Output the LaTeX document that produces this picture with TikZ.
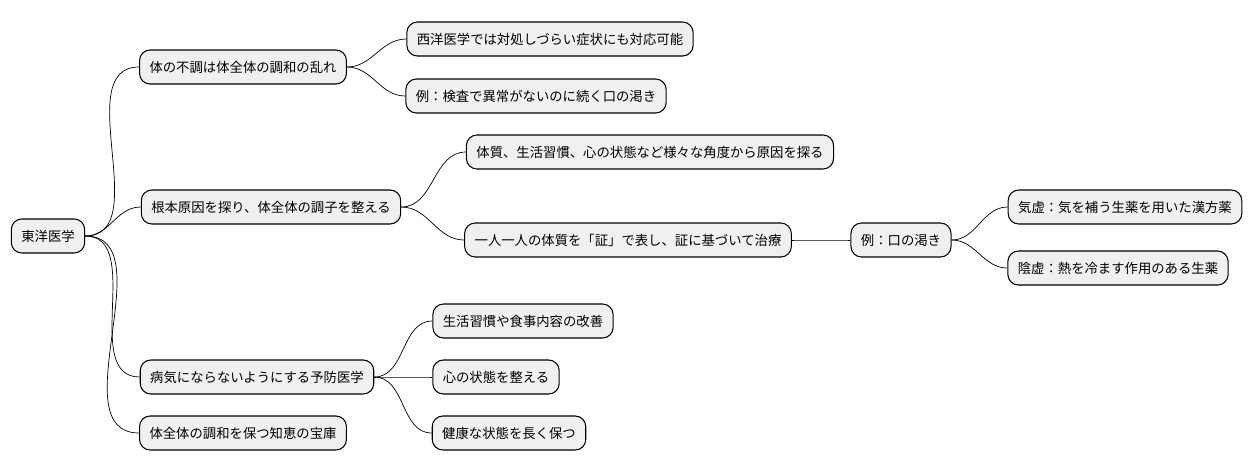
\documentclass[tikz,border=0pt]{standalone}
\usepackage{fontspec}
\setmainfont{Noto Sans CJK JP}
\begin{document}
\begin{tikzpicture}[x=0.02cm,y=-0.02cm,
    topic/.style={draw=black, fill=black!6, rounded corners=6pt, line width=0.6pt,
        minimum height=0.68cm, inner xsep=0.2cm, font=\fontsize{7.6pt}{9pt}\selectfont},
    link/.style={line width=0.5pt, out=0, in=180}]
    \useasboundingbox (0,0) rectangle (1258,471);

    % Root
    \node[topic] (root) at (48,236) {東洋医学};

    % First branch
    \node[topic] (imbal) at (243,67) {体の不調は体全体の調和の乱れ};
    \node[topic] (west) at (550,39) {西洋医学では対処しづらい症状にも対応可能};
    \node[topic] (thirst) at (536,96) {例：検査で異常がないのに続く口の渇き};

    % Second branch
    \node[topic] (cause) at (271,207) {根本原因を探り、体全体の調子を整える};
    \node[topic] (angles) at (650,152) {体質、生活習慣、心の状態など様々な角度から原因を探る};
    \node[topic] (sho) at (628,240) {一人一人の体質を「証」で表し、証に基づいて治療};
    \node[topic] (ex) at (901,240) {例：口の渇き};
    \node[topic] (kikyo) at (1125,207) {気虚：気を補う生薬を用いた漢方薬};
    \node[topic] (inkyo) at (1118,268) {陰虚：熱を冷ます作用のある生薬};

    % Third branch
    \node[topic] (prev) at (257,377) {病気にならないようにする予防医学};
    \node[topic] (diet) at (523,321) {生活習慣や食事内容の改善};
    \node[topic] (mind) at (496,377) {心の状態を整える};
    \node[topic] (health) at (509,433) {健康な状態を長く保つ};

    % Fourth branch
    \node[topic] (wisdom) at (243,433) {体全体の調和を保つ知恵の宝庫};

    % Connectors
    \foreach \a/\b in {root/imbal, root/cause, root/prev, root/wisdom,
        imbal/west, imbal/thirst, cause/angles, cause/sho, sho/ex,
        ex/kikyo, ex/inkyo, prev/diet, prev/mind, prev/health}
        \draw (\a.east) to[link] (\b.west);
\end{tikzpicture}
\end{document}
